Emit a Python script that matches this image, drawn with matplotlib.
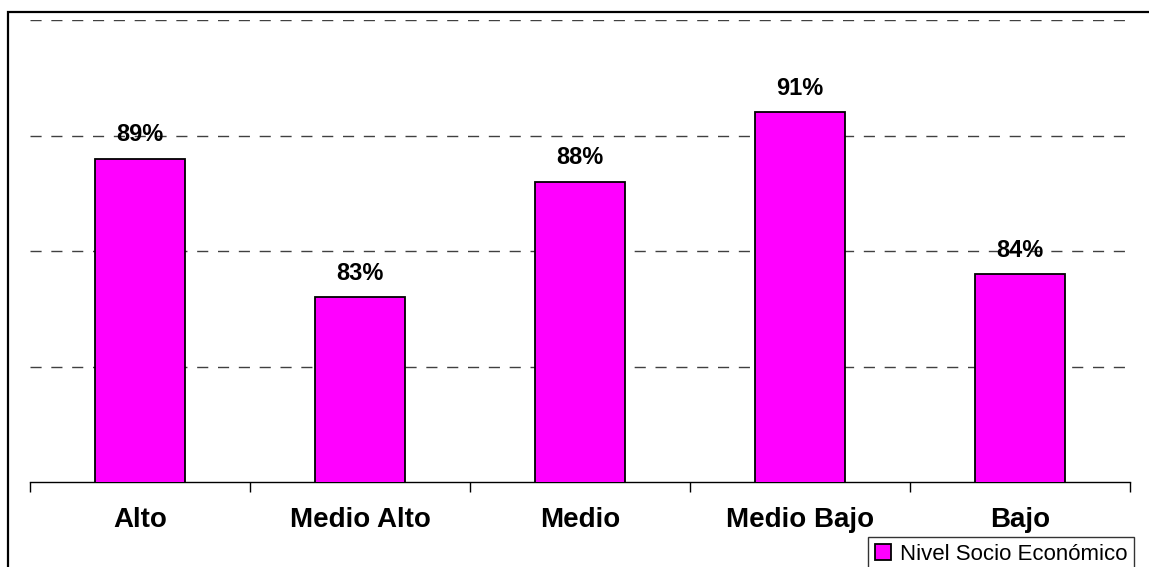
import matplotlib.pyplot as plt
from matplotlib.patches import Rectangle
import numpy as np

plt.rcParams['font.family'] = ['Liberation Sans', 'DejaVu Sans']

categorias = ['Alto', 'Medio Alto', 'Medio', 'Medio Bajo', 'Bajo']
valores = [89, 83, 88, 91, 84]
serie = 'Nivel Socio Económico'

fig = plt.figure(figsize=(11.49, 5.67), dpi=100)
ax = fig.add_axes([30 / 1149, 1 - 482 / 567, 1100 / 1149, 462 / 567])

x = np.arange(len(categorias))
barras = ax.bar(x, valores, width=0.405, bottom=0, color='#FF00FF',
                edgecolor='black', linewidth=1.3, label=serie, zorder=3)

for xi, v in zip(x, valores):
    ax.annotate(f'{v}%', (xi, v), xytext=(0, 9), textcoords='offset points',
                ha='center', va='bottom', fontsize=17, fontweight='bold', zorder=4)

ax.set_xlim(-0.5, len(categorias) - 0.5)
ax.set_ylim(75, 95)
ax.set_yticks([80, 85, 90, 95])
ax.yaxis.grid(True, linestyle=(0, (8, 7)), color='#404040', linewidth=1)
ax.tick_params(axis='y', left=False, labelleft=False)

ax.set_xticks(x)
ax.set_xticklabels(categorias, fontsize=20, fontweight='bold')
ax.set_xticks(np.arange(-0.5, len(categorias)), minor=True)
ax.tick_params(axis='x', which='major', length=0, pad=18)
ax.tick_params(axis='x', which='minor', length=7, width=1, direction='out')

for s in ['top', 'right', 'left']:
    ax.spines[s].set_visible(False)
ax.spines['bottom'].set_linewidth(1)

leg = fig.legend(handles=[barras], labels=[serie], loc='upper left',
                 bbox_to_anchor=(868 / 1149, 1 - 537 / 567), fontsize=16,
                 frameon=True, fancybox=False, edgecolor='black',
                 handlelength=0.75, handleheight=0.75, handletextpad=0.4,
                 borderpad=0.3, borderaxespad=0)
leg.get_frame().set_linewidth(1)

# marco exterior del gráfico
fig.patches.append(Rectangle((8 / 1149, -0.1), 1.2, 1.1 - 12 / 567,
                             transform=fig.transFigure, fill=False,
                             edgecolor='black', linewidth=1.6))

fig.savefig('out.png', dpi=100)
